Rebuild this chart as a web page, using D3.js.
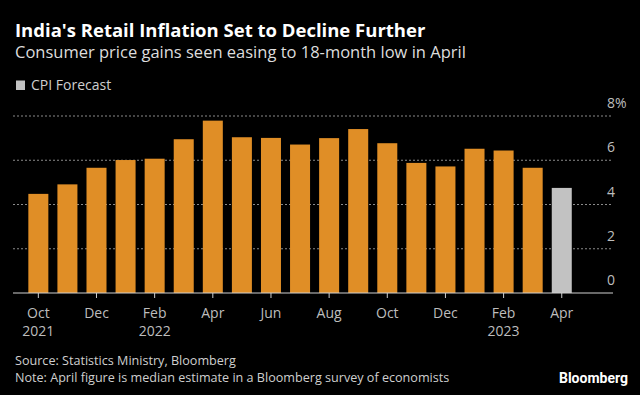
<!DOCTYPE html>
<html>
<head>
<meta charset="utf-8">
<script src="https://cdn.jsdelivr.net/npm/d3@7"></script>
<style>
  html, body { margin: 0; padding: 0; background: #000; }
  svg { display: block; }
  text { font-family: "Liberation Sans Narrow", "Open Sans", sans-serif; }
</style>
</head>
<body>
<div id="chart"></div>
<script>
// months in the chart, Oct 2021 .. Apr 2023
const periods = ["2021-10","2021-11","2021-12","2022-01","2022-02","2022-03","2022-04","2022-05","2022-06",
  "2022-07","2022-08","2022-09","2022-10","2022-11","2022-12","2023-01","2023-02","2023-03","2023-04"];
// CPI y/y %, actual prints
const cpiActual = [4.48, 4.91, 5.66, 6.01, 6.07, 6.95, 7.79, 7.04, 7.01, 6.71, 7.00, 7.41, 6.77, 5.88, 5.72, 6.52, 6.44, 5.66];
// April 2023 forecast (median estimate)
const cpiForecast = [4.75];
const yTicks = [0, 2, 4, 6, 8];
const monthNames = ["Jan","Feb","Mar","Apr","May","Jun","Jul","Aug","Sep","Oct","Nov","Dec"];

const data = periods.map((p, i) => ({
  period: p,
  value: i < cpiActual.length ? cpiActual[i] : cpiForecast[i - cpiActual.length],
  forecast: i >= cpiActual.length
}));

const W = 640, H = 395;
const svg = d3.select("#chart").append("svg")
  .attr("width", W)
  .attr("height", H);

svg.append("rect").attr("width", W).attr("height", H).attr("fill", "#000");

const x = d3.scaleBand()
  .domain(periods)
  .range([23.8, 576.3])
  .paddingInner(0.312)
  .paddingOuter(0.156);

const y = d3.scaleLinear()
  .domain([0, 8])
  .range([293, 116]);

// gridlines
svg.append("g")
  .selectAll("line")
  .data(yTicks.filter(d => d > 0))
  .join("line")
  .attr("x1", 13)
  .attr("x2", 613)
  .attr("y1", d => y(d))
  .attr("y2", d => y(d))
  .attr("stroke", "#8a8a8a")
  .attr("stroke-width", 1)
  .attr("stroke-dasharray", "2,2");

// y labels on the right, sitting above the gridlines
svg.append("g")
  .selectAll("text")
  .data(yTicks)
  .join("text")
  .attr("x", 607)
  .attr("y", d => y(d) - 8)
  .attr("fill", "#bdbdbd")
  .attr("font-size", 14)
  .text(d => d === 8 ? d + "%" : d);

// bars
svg.append("g")
  .selectAll("rect")
  .data(data)
  .join("rect")
  .attr("x", d => x(d.period))
  .attr("width", x.bandwidth())
  .attr("y", d => y(d.value))
  .attr("height", d => y(0) - y(d.value))
  .attr("fill", d => d.forecast ? "#c2c2c2" : "#e08e26");

// x axis
const tickVals = periods.filter((p, i) => i % 2 === 0);
const xAxis = svg.append("g")
  .attr("transform", `translate(0,${y(0)})`)
  .call(d3.axisBottom(x).tickValues(tickVals).tickSize(5).tickSizeOuter(0).tickFormat(""));

xAxis.select(".domain").remove();
xAxis.selectAll(".tick line").attr("stroke", "#cfcfcf");
xAxis.insert("line", ":first-child")
  .attr("x1", 13).attr("x2", 613)
  .attr("stroke", "#cfcfcf")
  .attr("stroke-width", 1.2);

xAxis.selectAll(".tick").each(function(p, i) {
  const [yr, mo] = p.split("-").map(Number);
  const t = d3.select(this).append("text")
    .attr("fill", "#bdbdbd")
    .attr("font-size", 14)
    .attr("text-anchor", "middle")
    .attr("y", 24.5);
  t.append("tspan").attr("x", 0).text(monthNames[mo - 1]);
  if (i === 0 || mo === 2 && (yr === 2022 || yr === 2023)) {
    t.append("tspan").attr("x", 0).attr("dy", 18).text(yr);
  }
});

// titles
svg.append("text")
  .attr("x", 15).attr("y", 37)
  .attr("fill", "#ffffff")
  .attr("font-size", 18.5)
  .attr("font-weight", "bold")
  .text("India's Retail Inflation Set to Decline Further");

svg.append("text")
  .attr("x", 15).attr("y", 58)
  .attr("fill", "#dddddd")
  .attr("font-size", 16.5)
  .text("Consumer price gains seen easing to 18-month low in April");

// legend
svg.append("rect")
  .attr("x", 16).attr("y", 80.5)
  .attr("width", 9).attr("height", 9.5)
  .attr("fill", "#c2c2c2");
svg.append("text")
  .attr("x", 31).attr("y", 90)
  .attr("fill", "#cfcfcf")
  .attr("font-size", 14)
  .text("CPI Forecast");

// footer
svg.append("text")
  .attr("x", 15).attr("y", 364.5)
  .attr("fill", "#cfcfcf")
  .attr("font-size", 12.6)
  .text("Source: Statistics Ministry, Bloomberg");
svg.append("text")
  .attr("x", 15).attr("y", 381.5)
  .attr("fill", "#cfcfcf")
  .attr("font-size", 12.6)
  .text("Note: April figure is median estimate in a Bloomberg survey of economists");

svg.append("text")
  .attr("x", 628).attr("y", 383)
  .attr("text-anchor", "end")
  .attr("fill", "#ffffff")
  .attr("font-size", 14)
  .attr("font-weight", "bold")
  .style("font-family", "Roboto, 'Liberation Sans', sans-serif")
  .text("Bloomberg");
</script>
</body>
</html>
